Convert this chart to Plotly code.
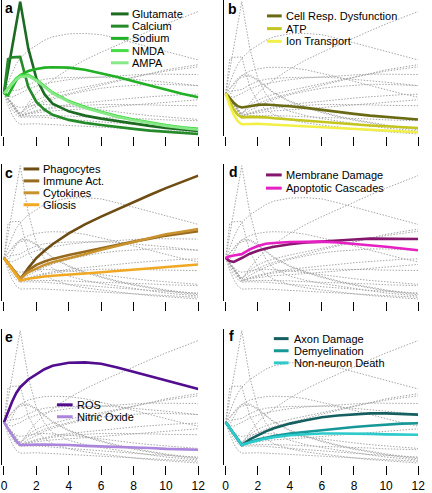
import plotly.graph_objects as go

W, H = 432, 493

time = [0, 0.25, 0.5, 0.75, 1, 1.5, 2, 2.5, 3, 4, 5, 6, 7, 8, 9, 10, 11, 12]
x_ticks = [0, 2, 4, 6, 8, 10, 12]

# panel a
glutamate = [1.0, 1.54, 2.07, 2.6, 3.14, 2.05, 1.35, 0.98, 0.76, 0.58, 0.48, 0.41, 0.35, 0.29, 0.24, 0.19, 0.15, 0.12]
calcium = [1.0, 1.8, 1.84, 1.85, 1.85, 1.15, 0.8, 0.62, 0.5, 0.38, 0.31, 0.26, 0.21, 0.17, 0.13, 0.1, 0.07, 0.05]
sodium = [1.0, 0.95, 1.12, 1.3, 1.42, 1.52, 1.57, 1.6, 1.61, 1.6, 1.55, 1.47, 1.38, 1.28, 1.18, 1.08, 0.99, 0.91]
nmda = [1.0, 1.12, 1.25, 1.35, 1.42, 1.43, 1.32, 1.17, 1.02, 0.82, 0.68, 0.57, 0.47, 0.39, 0.32, 0.26, 0.21, 0.17]
ampa = [1.0, 1.1, 1.22, 1.32, 1.38, 1.4, 1.3, 1.15, 1.0, 0.8, 0.66, 0.55, 0.45, 0.37, 0.3, 0.24, 0.19, 0.15]
# panel b
cell_resp = [1.0, 0.88, 0.78, 0.7, 0.67, 0.7, 0.73, 0.74, 0.73, 0.7, 0.66, 0.61, 0.56, 0.52, 0.48, 0.45, 0.42, 0.39]
atp = [1.0, 0.8, 0.62, 0.5, 0.44, 0.45, 0.45, 0.44, 0.42, 0.39, 0.36, 0.33, 0.3, 0.27, 0.25, 0.23, 0.21, 0.19]
ion_transport = [1.0, 0.72, 0.5, 0.35, 0.28, 0.29, 0.29, 0.28, 0.27, 0.24, 0.22, 0.2, 0.18, 0.16, 0.14, 0.12, 0.1, 0.09]
# panel c
phagocytes = [1.0, 0.88, 0.75, 0.62, 0.5, 0.77, 1.0, 1.17, 1.32, 1.57, 1.78, 1.96, 2.13, 2.3, 2.46, 2.62, 2.77, 2.91]
immune = [1.0, 0.88, 0.76, 0.64, 0.53, 0.72, 0.84, 0.92, 0.98, 1.07, 1.15, 1.22, 1.3, 1.38, 1.45, 1.52, 1.57, 1.62]
cytokines = [1.0, 0.88, 0.76, 0.64, 0.52, 0.67, 0.76, 0.84, 0.9, 0.99, 1.09, 1.19, 1.28, 1.38, 1.47, 1.55, 1.61, 1.67]
gliosis = [1.0, 0.87, 0.74, 0.6, 0.48, 0.52, 0.55, 0.57, 0.59, 0.61, 0.64, 0.67, 0.7, 0.73, 0.76, 0.79, 0.82, 0.85]
# panel d
membrane = [1.0, 0.93, 0.91, 0.95, 1.0, 1.1, 1.17, 1.22, 1.26, 1.32, 1.36, 1.38, 1.41, 1.43, 1.45, 1.45, 1.45, 1.44]
apoptotic = [1.0, 1.04, 1.06, 1.07, 1.09, 1.2, 1.28, 1.33, 1.35, 1.37, 1.38, 1.38, 1.36, 1.33, 1.3, 1.26, 1.22, 1.18]
# panel e
ros = [1.0, 1.25, 1.48, 1.68, 1.82, 2.0, 2.13, 2.24, 2.32, 2.39, 2.4, 2.37, 2.28, 2.18, 2.08, 1.98, 1.88, 1.78]
nitric_oxide = [1.0, 0.85, 0.7, 0.56, 0.47, 0.48, 0.48, 0.48, 0.48, 0.47, 0.45, 0.44, 0.43, 0.41, 0.4, 0.38, 0.37, 0.36]
# panel f
axon = [1.0, 0.87, 0.74, 0.6, 0.47, 0.6, 0.7, 0.79, 0.86, 0.97, 1.05, 1.12, 1.16, 1.19, 1.21, 1.21, 1.2, 1.18]
demyelination = [1.0, 0.87, 0.74, 0.6, 0.47, 0.54, 0.6, 0.64, 0.68, 0.74, 0.78, 0.81, 0.85, 0.89, 0.92, 0.95, 0.97, 0.98]
non_neuron = [1.0, 0.87, 0.74, 0.6, 0.47, 0.53, 0.58, 0.62, 0.65, 0.7, 0.72, 0.74, 0.74, 0.74, 0.73, 0.72, 0.715, 0.71]

panels = [
    ("a", [("Glutamate", glutamate, "#1d6b22"), ("Calcium", calcium, "#248a2a"),
           ("Sodium", sodium, "#22b024"), ("NMDA", nmda, "#45dc45"), ("AMPA", ampa, "#88e888")]),
    ("b", [("Cell Resp. Dysfunction", cell_resp, "#6b6a14"), ("ATP", atp, "#c4c41e"),
           ("Ion Transport", ion_transport, "#f2f046")]),
    ("c", [("Phagocytes", phagocytes, "#6e4c12"), ("Immune Act.", immune, "#976a1e"),
           ("Cytokines", cytokines, "#c8922e"), ("Gliosis", gliosis, "#f0a822")]),
    ("d", [("Membrane Damage", membrane, "#84166c"), ("Apoptotic Cascades", apoptotic, "#e620c2")]),
    ("e", [("ROS", ros, "#520c8e"), ("Nitric Oxide", nitric_oxide, "#ab86dc")]),
    ("f", [("Axon Damage", axon, "#155f60"), ("Demyelination", demyelination, "#169898"),
           ("Non-neuron Death", non_neuron, "#2ccaca")]),
]

all_series = [s for _, grp in panels for s in grp]

# layout geometry (pixels)
col_px = [(1.4, 201.0, -0.1), (227.0, 425.0, -0.12)]
row_px = [(0.0, 137.0), (165.0, 303.0), (331.0, 468.0)]
letter_pos = [(2, 8.5), (229, 9.5), (2, 174), (230, 173.5), (2, 339.5), (230, 338.5)]
legend_pos = [  # (line x0, line x1, text x, first row y, row step)
    (112, 130, 131, 14.0, 12.3),
    (271, 286, 288, 16.0, 12.8),
    (23, 39, 41, 170.0, 12.0),
    (270, 286, 288, 176.0, 13.3),
    (57, 73, 75, 407.3, 12.0),
    (278, 293, 296, 340.7, 12.2),
]

def px(x):
    return x / W

def py(y):
    return 1 - y / H

fig = go.Figure()
layout = dict(width=W, height=H, margin=dict(l=0, r=0, t=0, b=0),
              plot_bgcolor="white", paper_bgcolor="white", showlegend=False,
              font=dict(family="Liberation Sans, Arial, sans-serif", color="black"))
annotations = []
shapes = []

for i, (letter, grp) in enumerate(panels):
    r, c = divmod(i, 2)
    suffix = "" if i == 0 else str(i + 1)
    xa, ya = "x" + suffix, "y" + suffix
    x0, x1, xmin = col_px[c]
    y0, y1 = row_px[r]
    layout["xaxis" + suffix] = dict(domain=[px(x0), px(x1)], range=[xmin, 12], anchor=ya,
                                    showgrid=False, zeroline=False, showline=False,
                                    ticks="outside", ticklen=9, tickwidth=1, tickcolor="black",
                                    tickvals=x_ticks, showticklabels=(r == 2),
                                    tickfont=dict(size=12, color="black"))
    layout["yaxis" + suffix] = dict(domain=[py(y1), py(y0)], range=[0, 3.18], anchor=xa,
                                    showgrid=False, zeroline=False, showline=True,
                                    linecolor="black", linewidth=1, ticks="", showticklabels=False)
    for name, vals, col in all_series:
        fig.add_trace(go.Scatter(x=time, y=vals, mode="lines", xaxis=xa, yaxis=ya,
                                 line=dict(color="#a6a6a6", width=1, dash="1.5px,1.5px"),
                                 hoverinfo="skip"))
    for name, vals, col in grp:
        fig.add_trace(go.Scatter(x=time, y=vals, mode="lines", name=name, xaxis=xa, yaxis=ya,
                                 line=dict(color=col, width=2.6)))
    lx, ly = letter_pos[i]
    annotations.append(dict(x=px(lx), y=py(ly), xref="paper", yref="paper", text="<b>%s</b>" % letter,
                            showarrow=False, xanchor="left", yanchor="middle",
                            font=dict(size=14, color="black")))
    l0, l1, tx, fy, step = legend_pos[i]
    for k, (name, vals, col) in enumerate(grp):
        yy = fy + k * step
        shapes.append(dict(type="line", xref="paper", yref="paper", x0=px(l0), x1=px(l1),
                           y0=py(yy), y1=py(yy), line=dict(color=col, width=3)))
        annotations.append(dict(x=px(tx), y=py(yy), xref="paper", yref="paper", text=name,
                                showarrow=False, xanchor="left", yanchor="middle",
                                font=dict(size=11, color="black")))

layout["annotations"] = annotations
layout["shapes"] = shapes
fig.update_layout(**layout)
fig.write_html("out.html", config={"displayModeBar": False},
               post_script="document.body.style.margin='0';")
